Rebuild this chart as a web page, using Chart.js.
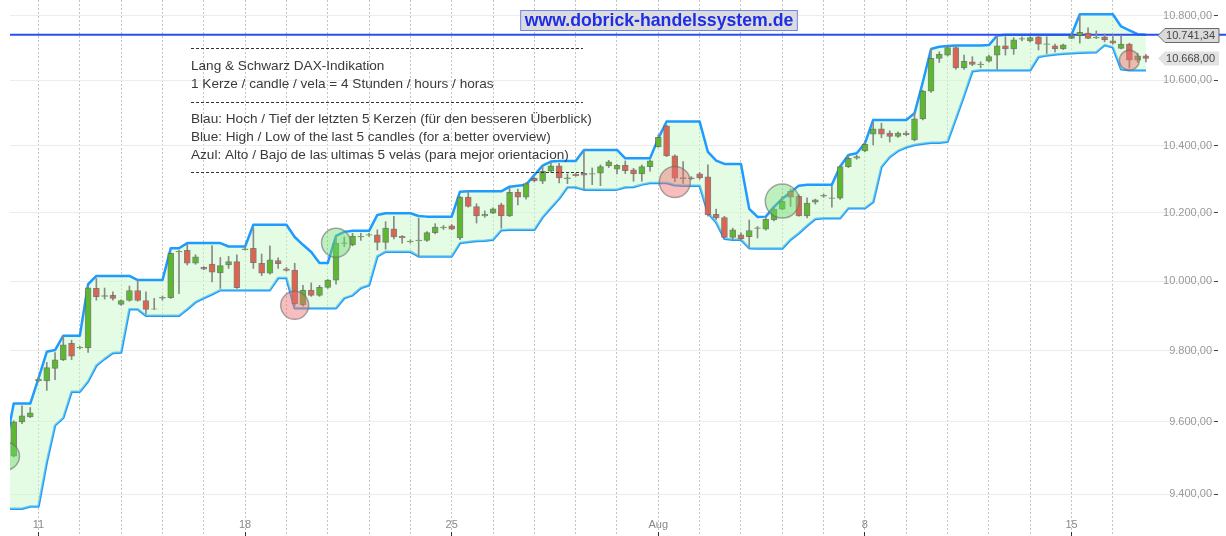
<!DOCTYPE html>
<html>
<head>
<meta charset="utf-8">
<script src="https://cdn.jsdelivr.net/npm/chart.js@4"></script>
<style>
  html, body { margin: 0; padding: 0; background: #fff; }
</style>
</head>
<body>
<canvas id="daxChart" width="1226" height="536"></canvas>
<script>
// 4h candles, Lang & Schwarz DAX, 8 Jul - 16 Aug (index 0 = 3rd candle of 8 Jul)
const candleOpen = [9505,9600,9614,9715,9715,9750,9774,9821,9808,9808,
  9979,9956,9959,9933,9944,9973,9944,9919,9951,9952,
  10085,10090,10052,10040,10050,10024,10047,10057,10092,10096,
  10052,10023,10060,10036,10032,9932,9974,9959,9982,10003,
  10110,10106,10129,10134,10135,10113,10153,10131,10115,10118,
  10119,10142,10156,10162,10126,10247,10219,10191,10199,10224,
  10191,10261,10247,10303,10294,10324,10340,10302,10315,10318,
  10315,10318,10340,10330,10342,10328,10316,10338,10398,10461,
  10370,10302,10304,10316,10307,10196,10186,10128,10135,10130,
  10154,10152,10179,10211,10264,10249,10191,10232,10250,10243,
  10244,10338,10363,10385,10436,10452,10439,10429,10439,10418,
  10482,10567,10668,10678,10701,10638,10657,10648,10659,10678,
  10707,10697,10727,10722,10735,10711,10707,10697,10730,10738,
  10746,10731,10735,10722,10699,10712,10662,10676];
const candleHigh = [9603,9645,9640,9725,9767,9795,9843,9830,9813,9984,
  10008,9980,9969,9946,9986,10003,9969,9950,9957,10083,
  10090,10108,10077,10042,10104,10069,10072,10077,10100,10155,
  10079,10103,10068,10040,10052,9988,9995,9988,10005,10132,
  10129,10140,10140,10140,10150,10174,10190,10133,10121,10184,
  10145,10168,10163,10166,10249,10264,10227,10206,10215,10229,
  10274,10271,10290,10306,10340,10350,10348,10316,10318,10388,
  10334,10343,10357,10345,10355,10333,10343,10358,10434,10464,
  10373,10353,10308,10321,10343,10211,10190,10155,10141,10179,
  10160,10188,10214,10249,10271,10254,10245,10241,10256,10281,
  10341,10371,10372,10410,10472,10469,10446,10443,10445,10502,
  10570,10699,10688,10707,10707,10678,10673,10657,10678,10738,
  10735,10732,10735,10735,10738,10735,10712,10712,10745,10803,
  10763,10753,10744,10741,10738,10715,10684,10680];
const candleLow = [9503,9595,9612,9712,9688,9718,9772,9775,9805,9795,
  9945,9948,9945,9930,9942,9942,9905,9918,9945,9950,
  9964,10047,10049,10033,9998,9979,10037,9979,10090,10037,
  10016,10020,10037,10029,9930,9928,9956,9956,9979,9991,
  10101,10103,10119,10131,10091,10093,10123,10111,10111,10072,
  10116,10138,10151,10150,10121,10217,10170,10187,10198,10155,
  10189,10224,10241,10292,10287,10321,10289,10287,10309,10269,
  10284,10281,10335,10316,10317,10294,10294,10324,10396,10368,
  10293,10288,10299,10300,10190,10180,10126,10121,10121,10099,
  10126,10149,10176,10209,10219,10190,10185,10226,10246,10217,
  10240,10335,10360,10383,10403,10425,10412,10426,10431,10415,
  10479,10563,10655,10675,10634,10634,10645,10639,10656,10634,
  10678,10680,10722,10718,10694,10683,10688,10695,10729,10715,
  10729,10729,10719,10712,10697,10638,10655,10657];
const candleClose = [9600,9617,9625,9720,9752,9774,9817,9785,9810,9981,
  9955,9958,9950,9944,9973,9944,9918,9920,9953,10081,
  10087,10052,10071,10035,10026,10045,10057,9981,10094,10054,
  10023,10062,10051,10031,9935,9974,9959,9982,10003,10111,
  10112,10132,10131,10136,10113,10155,10129,10126,10117,10120,
  10142,10158,10158,10152,10247,10219,10191,10196,10212,10191,
  10261,10247,10287,10296,10324,10340,10304,10304,10311,10312,
  10317,10338,10352,10342,10326,10316,10338,10355,10426,10370,
  10303,10305,10302,10304,10194,10185,10128,10150,10123,10148,
  10156,10181,10211,10234,10247,10191,10229,10239,10252,10245,
  10338,10363,10368,10405,10452,10436,10429,10439,10434,10482,
  10567,10668,10680,10701,10638,10659,10649,10650,10673,10707,
  10697,10725,10729,10732,10712,10713,10697,10710,10738,10749,
  10730,10733,10725,10715,10712,10662,10676,10668];

// high / low of the last 5 candles, starting one candle before index 0
const channelStart = -1;
const channelHigh = [9530,
  9651,9651,9651,9722,9797,9802,9843,9843,9843,9991,
  10015,10015,10015,10015,10015,10003,10003,10003,10003,10096,
  10096,10111,10111,10111,10111,10111,10101,10101,10101,10165,
  10165,10165,10165,10165,10129,10106,10085,10053,10053,10132,
  10144,10147,10147,10147,10194,10199,10199,10199,10199,10191,
  10189,10189,10189,10189,10263,10264,10264,10264,10264,10264,
  10278,10281,10284,10313,10341,10353,10355,10355,10355,10388,
  10388,10388,10388,10388,10363,10363,10363,10363,10423,10474,
  10474,10474,10474,10474,10382,10356,10346,10346,10346,10212,
  10188,10189,10218,10242,10261,10281,10284,10284,10284,10284,
  10338,10373,10378,10408,10479,10479,10479,10479,10479,10499,
  10594,10697,10704,10706,10708,10708,10708,10708,10709,10739,
  10741,10741,10741,10741,10741,10741,10741,10741,10741,10805,
  10805,10805,10805,10805,10767,10755,10743,10741];
const channelLow = [9361,
  9361,9361,9367,9367,9488,9590,9611,9684,9684,9713,
  9758,9777,9794,9795,9919,9919,9900,9900,9900,9900,
  9900,9919,9939,9951,9962,9974,9974,9974,9974,9974,
  9974,9974,10009,10009,9922,9922,9922,9922,9922,9922,
  9951,9959,9980,9988,10072,10086,10086,10086,10086,10072,
  10072,10072,10072,10072,10111,10114,10117,10118,10121,10149,
  10150,10150,10150,10150,10187,10215,10242,10276,10276,10269,
  10269,10269,10269,10269,10276,10277,10284,10289,10289,10289,
  10282,10281,10281,10281,10200,10172,10124,10121,10121,10096,
  10095,10095,10095,10095,10121,10140,10162,10182,10184,10184,
  10184,10214,10214,10214,10232,10337,10367,10385,10396,10403,
  10407,10410,10410,10413,10482,10553,10628,10631,10631,10631,
  10631,10631,10631,10631,10672,10677,10680,10682,10684,10685,
  10686,10687,10709,10702,10634,10631,10631,10631];

// breakout signals
const signalIndex = [-1, 34, 39, 80, 93, 135];
const signalPrice = [9505, 9930, 10112, 10292, 10235, 10662];
const signalType = ['up', 'down', 'up', 'down', 'up', 'down'];

// axes
const candlesPerDay = 5;
const firstDayStart = 3;   // first candle of Mon 11 Jul
const dayCount = 27;
const weekLabels = ['11', '18', '25', 'Aug', '8', '15'];
const yTicks = [9400, 9600, 9800, 10000, 10200, 10400, 10600, 10800];
const levelPrice = 10741.34;

const siteTitle = 'www.dobrick-handelssystem.de';
const noteLines = [
  'Lang & Schwarz DAX-Indikation',
  '1 Kerze / candle / vela = 4 Stunden / hours / horas',
  'Blau: Hoch / Tief der letzten 5 Kerzen (für den besseren Überblick)',
  'Blue: High / Low of the last 5 candles (for a better overview)',
  'Azul: Alto / Bajo de las ultimas 5 velas (para mejor orientacion)'
];

// styles
const signalRadius = [14, 14, 14.5, 15.5, 17, 10];
const fontFamily = "'Liberation Sans', Arial, sans-serif";

function fmtDe(v) {
  const parts = v.toFixed(2).split('.');
  return parts[0].replace(/\B(?=(\d{3})+(?!\d))/g, '.') + ',' + parts[1];
}

const idx = candleOpen.map((_, i) => i);
const bodyData = idx.map(i => ({ x: i, y: [candleOpen[i], candleClose[i]] }));
const wickData = idx.map(i => ({ x: i, y: [candleLow[i], candleHigh[i]] }));
const upColor = '#5cb82f', downColor = '#dc6450';
const bodyColors = idx.map(i => candleClose[i] >= candleOpen[i] ? upColor : downColor);

const dayStarts = [];
for (let d = 0; d < dayCount; d++) dayStarts.push(firstDayStart + d * candlesPerDay);

function dayLabel(value) {
  const d = (value - firstDayStart) / candlesPerDay;
  return d % 5 === 0 ? weekLabels[d / 5] : '';
}
const hasLabel = ctx => !!(ctx.tick && ctx.tick.label);

const overlay = {
  id: 'overlay',
  afterDatasetDraw(chart, args) {
    if (args.index !== 0) return;
    const ctx = chart.ctx;
    const y = chart.scales.y.getPixelForValue(levelPrice);
    ctx.save();
    ctx.strokeStyle = '#2b4cf2';
    ctx.lineWidth = 2;
    ctx.beginPath();
    ctx.moveTo(chart.chartArea.left, y);
    ctx.lineTo(chart.width, y);
    ctx.stroke();
    ctx.restore();
  },
  afterDraw(chart) {
    const ctx = chart.ctx;
    const area = chart.chartArea;
    const yScale = chart.scales.y;
    ctx.save();

    // site title
    ctx.font = 'bold 17.7px ' + fontFamily;
    const tw = ctx.measureText(siteTitle).width;
    const cx = 659;
    ctx.fillStyle = '#dcdcdc';
    ctx.fillRect(cx - tw / 2 - 4, 10.5, tw + 8, 20);
    ctx.strokeStyle = '#6f84f0';
    ctx.lineWidth = 1;
    ctx.strokeRect(cx - tw / 2 - 4, 10.5, tw + 8, 20);
    ctx.fillStyle = '#1f2ee6';
    ctx.textAlign = 'center';
    ctx.textBaseline = 'middle';
    ctx.fillText(siteTitle, cx, 21);

    // note block
    const nx = 191, nx2 = 583;
    const dash = y => {
      ctx.save();
      ctx.strokeStyle = '#333';
      ctx.lineWidth = 1;
      ctx.setLineDash([3, 2]);
      ctx.beginPath();
      ctx.moveTo(nx, y + 0.5);
      ctx.lineTo(nx2, y + 0.5);
      ctx.stroke();
      ctx.restore();
    };
    dash(48);
    dash(102);
    dash(172);
    ctx.font = '13.6px ' + fontFamily;
    ctx.fillStyle = '#3a3a3a';
    ctx.textAlign = 'left';
    const lineYs = [66, 84, 119.5, 137.5, 155];
    noteLines.forEach((t, k) => ctx.fillText(t, nx, lineYs[k]));

    // price tags
    const tag = (value, withBorder, fill) => {
      const y = Math.round(yScale.getPixelForValue(value)) + 0.5;
      const x0 = area.right - 56, x1 = area.right - 49, x2 = area.right + 5;
      ctx.beginPath();
      ctx.moveTo(x0, y);
      ctx.lineTo(x1, y - 7);
      ctx.lineTo(x2, y - 7);
      ctx.lineTo(x2, y + 7);
      ctx.lineTo(x1, y + 7);
      ctx.closePath();
      ctx.fillStyle = fill;
      ctx.fill();
      if (withBorder) {
        ctx.strokeStyle = '#6b6b6b';
        ctx.lineWidth = 1;
        ctx.stroke();
      }
      ctx.font = '11px ' + fontFamily;
      ctx.fillStyle = '#444';
      ctx.textAlign = 'right';
      ctx.textBaseline = 'middle';
      ctx.fillText(fmtDe(value), area.right + 1, y);
    };
    tag(levelPrice, true, '#dadada');
    tag(candleClose[candleClose.length - 1], false, '#e2e2e2');
    ctx.restore();
  }
};

Chart.defaults.font.family = fontFamily;

new Chart(document.getElementById('daxChart'), {
  type: 'bar',
  data: {
    datasets: [
      {
        type: 'line',
        data: channelHigh.map((v, k) => ({ x: channelStart + k, y: v })),
        borderColor: '#1e9bff',
        borderWidth: 2.5,
        borderJoinStyle: 'round',
        pointRadius: 0,
        tension: 0,
        fill: '+1',
        backgroundColor: 'rgba(200,250,200,0.5)',
        order: 3
      },
      {
        type: 'line',
        data: channelLow.map((v, k) => ({ x: channelStart + k, y: v })),
        borderColor: '#1e9bff',
        borderWidth: 2.5,
        borderJoinStyle: 'round',
        pointRadius: 0,
        tension: 0,
        fill: false,
        order: 3
      },
      {
        data: wickData,
        backgroundColor: '#8a8a8a',
        barThickness: 1,
        grouped: false,
        borderSkipped: false,
        order: 2
      },
      {
        data: bodyData,
        backgroundColor: bodyColors,
        borderColor: 'rgba(95,95,95,0.75)',
        borderWidth: 1,
        barThickness: 6,
        grouped: false,
        borderSkipped: false,
        order: 1
      },
      {
        type: 'bubble',
        data: signalIndex.map((x, k) => ({ x: x, y: signalPrice[k] })),
        radius: ctx => signalRadius[ctx.dataIndex],
        backgroundColor: signalType.map(t => t === 'up' ? 'rgba(110,220,110,0.45)' : 'rgba(240,110,110,0.45)'),
        borderColor: 'rgba(110,110,110,0.6)',
        borderWidth: 1.5,
        order: 0
      }
    ]
  },
  options: {
    responsive: false,
    animation: false,
    layout: { autoPadding: false, padding: { left: 10, top: 0, right: 0, bottom: 0 } },
    plugins: { legend: { display: false }, tooltip: { enabled: false } },
    scales: {
      x: {
        type: 'linear',
        min: -0.45,
        max: 145.24,
        offset: false,
        afterBuildTicks: scale => { scale.ticks = dayStarts.map(v => ({ value: v })); },
        afterFit: scale => {
          scale.height = 4;
          scale.paddingLeft = 0;
          scale.paddingRight = 0;
        },
        grid: {
          offset: false,
          color: '#c4c4c4',
          lineWidth: 1,
          tickLength: 4,
          tickColor: ctx => hasLabel(ctx) ? '#333' : '#c4c4c4',
          tickBorderDash: ctx => hasLabel(ctx) ? [] : [2, 2]
        },
        border: { display: false, dash: [2, 2] },
        ticks: {
          mirror: true,
          padding: 0,
          autoSkip: false,
          maxRotation: 0,
          color: '#888',
          font: { size: 11 },
          callback: value => dayLabel(value)
        }
      },
      y: {
        type: 'logarithmic',
        position: 'right',
        min: 9298,
        max: 10850,
        afterBuildTicks: scale => { scale.ticks = yTicks.map(v => ({ value: v })); },
        afterFit: scale => {
          scale.width = 12;
          scale.paddingTop = 0;
          scale.paddingBottom = 0;
        },
        grid: { color: '#ececec', lineWidth: 1, tickLength: 4, tickColor: '#444' },
        border: { display: false },
        ticks: {
          mirror: true,
          padding: -2,
          color: '#999',
          font: { size: 11 },
          callback: value => fmtDe(value)
        }
      }
    }
  },
  plugins: [overlay]
});
</script>
</body>
</html>
